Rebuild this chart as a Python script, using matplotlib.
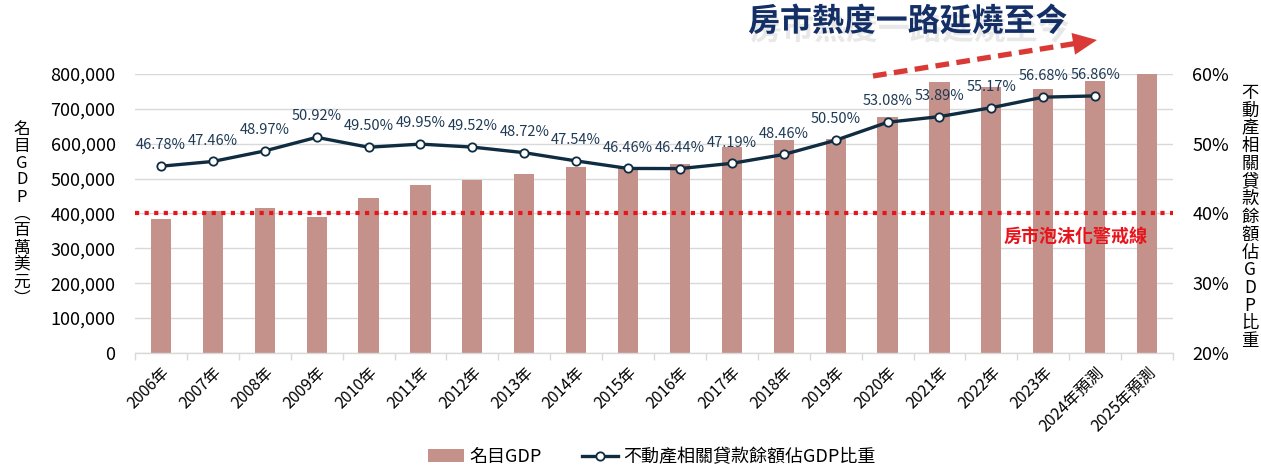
import math
import matplotlib
matplotlib.use("Agg")
import matplotlib.pyplot as plt
import matplotlib.patheffects as pe
from matplotlib.lines import Line2D
from matplotlib.patches import Polygon
from matplotlib.ticker import FuncFormatter, FixedLocator

plt.rcParams['font.family'] = ['Noto Sans CJK TC', 'DejaVu Sans']

categories = ['2006年', '2007年', '2008年', '2009年', '2010年', '2011年', '2012年',
              '2013年', '2014年', '2015年', '2016年', '2017年', '2018年', '2019年',
              '2020年', '2021年', '2022年', '2023年', '2024年預測', '2025年預測']
gdp = [384000, 406000, 416000, 390000, 445000, 483000, 495000, 512000, 534000,
       532000, 543000, 591000, 611000, 613000, 678000, 778000, 764000, 758000,
       780000, 802000]
ratio = [46.78, 47.46, 48.97, 50.92, 49.50, 49.95, 49.52, 48.72, 47.54, 46.46,
         46.44, 47.19, 48.46, 50.50, 53.08, 53.89, 55.17, 56.68, 56.86]
left_ticks = [0, 100000, 200000, 300000, 400000, 500000, 600000, 700000, 800000]
right_ticks = [20, 30, 40, 50, 60]
warning_level = 400000

bar_color = '#C4918B'
line_color = '#0F2C40'
label_color = '#1F3A55'
red = '#E8141C'

W, H = 1261, 470
fig = plt.figure(figsize=(W / 100, H / 100), dpi=100)
ax = fig.add_axes([135 / W, 1 - 353 / H, 1038 / W, 279 / H])

x = list(range(len(categories)))
ax.bar(x, gdp, width=0.39, color=bar_color, zorder=2, label='名目GDP')
ax.set_xlim(-0.5, len(categories) - 0.5)
ax.set_ylim(0, 800000)
ax.yaxis.set_major_locator(FixedLocator(left_ticks))
ax.yaxis.set_major_formatter(FuncFormatter(lambda v, p: f'{int(v):,}'))
ax.grid(axis='y', color='#D9D9D9', linewidth=1.0, zorder=0)
ax.set_axisbelow(True)
for s in ['top', 'right', 'left']:
    ax.spines[s].set_visible(False)
ax.spines['bottom'].set_color('#D9D9D9')
ax.spines['bottom'].set_linewidth(1.0)
ax.tick_params(axis='y', length=0, labelsize=13, pad=14)
ax.set_xticks(x)
ax.set_xticklabels(categories, rotation=45, ha='right', rotation_mode='anchor', fontsize=11.5)
ax.tick_params(axis='x', which='major', length=0, pad=8)
ax.set_xticks([i - 0.5 for i in range(len(categories) + 1)], minor=True)
ax.tick_params(axis='x', which='minor', length=5, color='#D9D9D9', width=1)

# warning line
ax.axhline(warning_level, color=red, linewidth=3, linestyle=(0, (1, 1.3)), zorder=4)

ax2 = ax.twinx()
ax2.set_ylim(20, 60)
ax2.yaxis.set_major_locator(FixedLocator(right_ticks))
ax2.yaxis.set_major_formatter(FuncFormatter(lambda v, p: f'{int(v)}%'))
for s in ax2.spines.values():
    s.set_visible(False)
ax2.tick_params(axis='y', length=0, labelsize=13, pad=14)
ln, = ax2.plot(x[:len(ratio)], ratio, color=line_color, linewidth=2.4, marker='o',
               markersize=6, markerfacecolor='white', markeredgecolor=line_color,
               markeredgewidth=1.3, zorder=5, label='不動產相關貸款餘額佔GDP比重')
for xi, r in zip(x, ratio):
    ax2.annotate(f'{r:.2f}%', (xi, r), xytext=(0, 15), textcoords='offset points',
                 ha='center', va='center', fontsize=10.5, color=label_color)

# axis labels (vertical stacked text)
left_label = '名目GDP︵百萬美元︶'
fig.text(22 / W, 1 - 214 / H, '\n'.join(left_label), ha='center', va='center',
         fontsize=12, linespacing=1.0, color='black')
right_label = '不動產相關貸款餘額佔GDP比重'
fig.text(1250 / W, 1 - 217 / H, '\n'.join(right_label), ha='center', va='center',
         fontsize=12.5, linespacing=0.98, color='black')

# warning label
fig.text(1075 / W, 1 - 236 / H, '房市泡沫化警戒線', ha='center', va='center',
         fontsize=13, fontweight='bold', color=red)

# title with soft shadow
title = '房市熱度一路延燒至今'
fig.text(908 / W, 1 - 22 / H, title, ha='center', va='center', fontsize=23,
         fontweight='bold', color='#142F66',
         path_effects=[pe.withSimplePatchShadow(offset=(1.5, -6), shadow_rgbFace='#B5B5B5',
                                                alpha=0.3)])

# dashed arrow
def fx(px):
    return px / W

def fy(py):
    return 1 - py / H

x0, y0 = 873, 76
tip = (1097, 40)
dx, dy = tip[0] - x0, tip[1] - y0
L = math.hypot(dx, dy)
ux, uy = dx / L, dy / L
nx, ny = -uy, ux
hl, hw = 24, 11
bx, by = tip[0] - ux * hl, tip[1] - uy * hl
fig.add_artist(Line2D([fx(x0), fx(bx + ux * 2)], [fy(y0), fy(by + uy * 2)],
                      color='#D93A36', linewidth=3.8, linestyle=(0, (2.6, 1.4))))
head = [(fx(tip[0]), fy(tip[1])),
        (fx(bx + nx * hw), fy(by + ny * hw)),
        (fx(bx - nx * hw), fy(by - ny * hw))]
fig.add_artist(Polygon(head, closed=True, facecolor='#D93A36', edgecolor='none',
                       transform=fig.transFigure))

# legend
handles = [ax.patches[0], ln]
fig.legend(handles, ['名目GDP', '不動產相關貸款餘額佔GDP比重'], loc='center',
           bbox_to_anchor=(652 / W, 1 - 457 / H), ncol=2, frameon=False, fontsize=13,
           handlelength=2.0, handletextpad=0.3, columnspacing=2.2)

fig.savefig('out.png', dpi=100)
